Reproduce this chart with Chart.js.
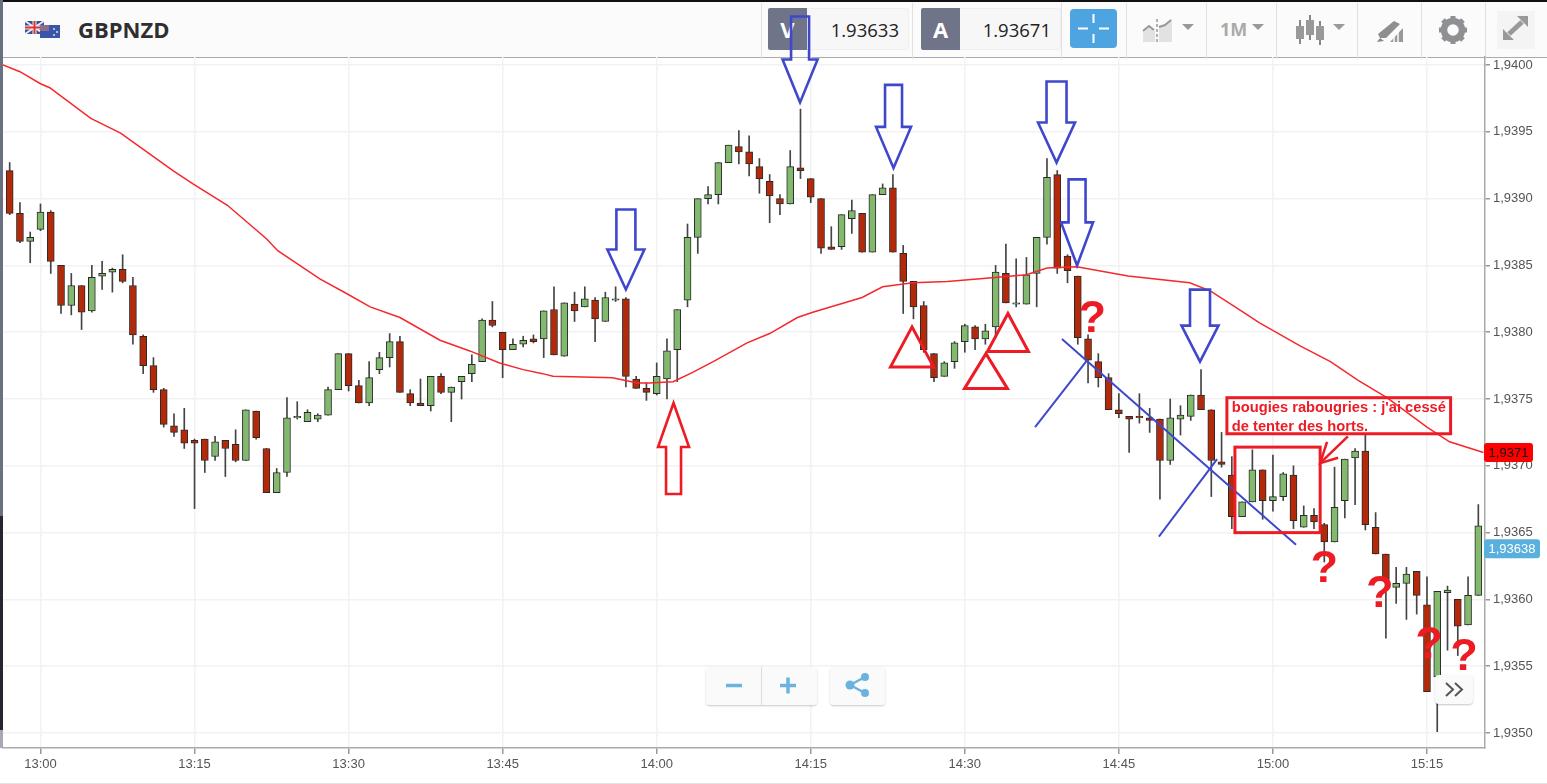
<!DOCTYPE html>
<html>
<head>
<meta charset="utf-8">
<title>GBPNZD</title>
<script src="https://cdn.jsdelivr.net/npm/chart.js@4"></script>
<style>
  html, body { margin: 0; padding: 0; background: #fff; overflow: hidden; }
  #page { position: relative; width: 1547px; height: 784px; overflow: hidden; font-family: "Open Sans", sans-serif; }
  #chart { position: absolute; left: 0; top: 0; z-index: 2; }
  #header { position: absolute; left: 0; top: 0; width: 1547px; height: 58px; background: #fbfbfb; border-bottom: 1.5px solid #aaa; box-sizing: border-box; z-index: 1; }
  #topline { position: absolute; left: 0; top: 0; width: 1547px; height: 1.5px; background: #111; z-index: 3; }
  #bottomline { position: absolute; left: 0; top: 783px; width: 1547px; height: 1px; background: #e4e4e4; z-index: 3; }
  .band { position: absolute; left: 0; width: 2.5px; z-index: 3; }
  .abs { position: absolute; }
  .symbol { left: 78px; top: 12px; font-size: 22px; font-weight: 700; color: #2f2f2f; line-height: 34px; }
  .side { width: 39px; top: 8px; height: 42px; background: #6f7488; color: #fff; font-weight: 700; font-size: 22px; line-height: 42px; text-align: center; border-radius: 2px 0 0 2px; }
  .quote { top: 8px; height: 40px; background: #f7f7f7; border: 1px solid #efefef; border-left: 0; color: #222; font-size: 18.5px; line-height: 41px; text-align: right; box-sizing: content-box; border-radius: 0 3px 3px 0; }
  .sep { top: 3px; width: 1px; height: 56px; background: #e0e0e0; }
  .caret { width: 0; height: 0; border-left: 6px solid transparent; border-right: 6px solid transparent; border-top: 6px solid #999; }
  .btn { z-index: 4; background: rgba(250,250,250,.92); border-radius: 4px; box-shadow: 0 1px 2px rgba(0,0,0,.22); }
</style>
</head>
<body>
<div id="page">
  <div id="header">
    <svg class="abs" style="left:24px;top:20px" width="38" height="20" viewBox="0 0 38 20">
      <rect x="1" y="1" width="19" height="13" fill="#3a4f9a"/>
      <path d="M1 1L20 14M20 1L1 14" stroke="#eee" stroke-width="2"/>
      <path d="M10.5 1V14M1 7.5H20" stroke="#eee" stroke-width="4"/>
      <path d="M10.5 1V14M1 7.5H20" stroke="#d33" stroke-width="2"/>
      <rect x="16" y="5" width="20" height="13" fill="#3b55a8"/>
      <rect x="16" y="5" width="9" height="6" fill="#8a6f90"/>
      <circle cx="30" cy="9" r="1" fill="#dde"/><circle cx="33" cy="12" r="1" fill="#dde"/><circle cx="30" cy="15" r="1" fill="#dde"/>
    </svg>
    <div class="abs symbol">GBPNZD</div>

    <div class="abs sep" style="left:761px"></div>
    <div class="abs side" style="left:768px">V</div>
    <div class="abs quote" style="left:807px;width:92px;padding-right:9px">1.93633</div>
    <div class="abs sep" style="left:912px"></div>
    <div class="abs side" style="left:921px">A</div>
    <div class="abs quote" style="left:960px;width:91px;padding-right:9px">1.93671</div>
    <div class="abs sep" style="left:1061px"></div>
    <svg class="abs" style="left:1070px;top:9px" width="47" height="39" viewBox="0 0 47 39">
      <rect x="0" y="0" width="47" height="39" rx="4" fill="#4ea4e0"/>
      <path d="M23.5 5V14M23.5 25V34M8 19.5H18M29 19.5H39" stroke="#fff" stroke-width="2"/>
    </svg>
    <div class="abs sep" style="left:1126px"></div>
    <svg class="abs" style="left:1142px;top:18px" width="32" height="26" viewBox="0 0 32 26">
      <path d="M1 15L7 9L13 13V24H1Z" fill="#e2e2e2"/><path d="M17 8L24 6L30 1V24H17Z" fill="#e2e2e2"/>
      <path d="M1 13L7 8L12 12" stroke="#999" stroke-width="2" fill="none"/><path d="M17 9L23 7L29 2" stroke="#999" stroke-width="2" fill="none"/>
      <path d="M15 1V25" stroke="#999" stroke-width="1.5" stroke-dasharray="3 2"/>
    </svg>
    <div class="abs caret" style="left:1182px;top:24px"></div>
    <div class="abs sep" style="left:1206px"></div>
    <div class="abs" style="left:1220px;top:17px;font-size:18px;font-weight:700;color:#aaa;line-height:24px">1M</div>
    <div class="abs caret" style="left:1252px;top:24px"></div>
    <div class="abs sep" style="left:1276px"></div>
    <svg class="abs" style="left:1295px;top:14px" width="32" height="32" viewBox="0 0 32 32">
      <path d="M5 6V30M15 1V26M25 7V31" stroke="#888" stroke-width="2"/>
      <rect x="1" y="12" width="8" height="13" fill="#999"/><rect x="11" y="6" width="8" height="15" fill="#999"/><rect x="21" y="12" width="8" height="14" fill="#999"/>
    </svg>
    <div class="abs caret" style="left:1333px;top:24px"></div>
    <div class="abs sep" style="left:1357px"></div>
    <svg class="abs" style="left:1376px;top:19px" width="28" height="24" viewBox="0 0 28 24">
      <path d="M2 15L18 2L24 5L10 19L4 19Z" fill="#8f8f8f"/><path d="M1 23L4 19L8 22Z" fill="#888"/>
      <path d="M14 23L27 9V23Z" fill="#999"/><path d="M18 23V17M22 23V13" stroke="#fbfbfb" stroke-width="1.5"/>
    </svg>
    <div class="abs sep" style="left:1421px"></div>
    <svg class="abs" style="left:1439px;top:16px" width="28" height="28" viewBox="0 0 28 28">
      <circle cx="14" cy="14" r="9" fill="none" stroke="#8e9094" stroke-width="6.5"/>
      <path d="M14 0V5M14 23V28M0 14H5M23 14H28M4 4L8 8M20 20L24 24M24 4L20 8M8 20L4 24" stroke="#8e9094" stroke-width="5"/>
    </svg>
    <div class="abs sep" style="left:1485px"></div>
    <svg class="abs" style="left:1497px;top:11px" width="38" height="38" viewBox="0 0 38 38">
      <rect width="38" height="38" fill="#f4f4f4"/>
      <path d="M20 5H31V16Z M6 18V29H17Z" fill="#999"/>
      <path d="M25 11L12 23" stroke="#999" stroke-width="5"/>
    </svg>
  </div>
  <div id="topline"></div>
  <div id="bottomline"></div>
  <div class="band" style="top:0;height:516px;background:#6a7080"></div>
  <div class="band" style="top:516px;height:214px;background:#26262e"></div>
  <div class="band" style="top:730px;height:18px;background:#a6a9b2"></div>

  <canvas id="chart" width="1547" height="784"></canvas>

  <div class="abs btn" style="left:706px;top:667px;width:111px;height:38px">
    <svg class="abs" style="left:0;top:0" width="111" height="38" viewBox="0 0 111 38">
      <path d="M55.5 0V38" stroke="#ddd"/>
      <path d="M20 18.500H36" stroke="#6bb3de" stroke-width="3.500"/>
      <path d="M74 18.500H90M82 10.500V26.500" stroke="#6bb3de" stroke-width="3.500"/>
    </svg>
  </div>
  <div class="abs btn" style="left:830px;top:667px;width:55px;height:38px">
    <svg class="abs" style="left:0;top:0" width="55" height="38" viewBox="0 0 55 38">
      <path d="M20 18L35 10M20 18L35 26" stroke="#6bb3de" stroke-width="2.500"/>
      <circle cx="20" cy="18" r="4.500" fill="#6bb3de"/><circle cx="35" cy="10" r="4" fill="#6bb3de"/><circle cx="35" cy="26" r="4" fill="#6bb3de"/>
    </svg>
  </div>
  <div class="abs btn" style="left:1435px;top:675px;width:38px;height:29px;background:#fafafa">
    <svg class="abs" style="left:0;top:0" width="38" height="29" viewBox="0 0 38 29">
      <path d="M11 8L18 14.500L11 21M20 8L27 14.500L20 21" stroke="#555" stroke-width="2" fill="none"/>
    </svg>
  </div>
</div>

<script>
// one candle per minute, first one is 12:57 (minute -3 from 13:00)
const firstMinute = -3;
const opens = [1.93921,1.93889,1.93868,1.93877,1.93890,1.93850,1.93820,1.93835,1.93816,1.93842,1.93845,1.93847,
  1.93835,1.93797,1.93775,1.93757,1.93730,1.93727,1.93719,1.93720,1.93707,1.93719,1.93716,1.93704,
  1.93741,1.93713,1.93680,1.93695,1.93736,1.93733,1.93735,1.93738,1.93757,1.93784,1.93760,1.93747,
  1.93772,1.93781,1.93793,1.93754,1.93747,1.93745,1.93767,1.93755,1.93763,1.93769,1.93778,1.93809,
  1.93800,1.93787,1.93791,1.93795,1.93795,1.93817,1.93782,1.93821,1.93819,1.93824,1.93808,1.93824,
  1.93825,1.93765,1.93758,1.93754,1.93765,1.93787,1.93824,1.93871,1.93900,1.93903,1.93927,1.93939,
  1.93935,1.93924,1.93913,1.93900,1.93896,1.93923,1.93915,1.93900,1.93864,1.93864,1.93885,1.93889,
  1.93860,1.93903,1.93908,1.93859,1.93838,1.93820,1.93784,1.93767,1.93778,1.93793,1.93804,1.93795,
  1.93804,1.93844,1.93821,1.93821,1.93844,1.93871,1.93918,1.93857,1.93842,1.93795,1.93778,1.93766,
  1.93742,1.93737,1.93737,1.93736,1.93735,1.93704,1.93735,1.93737,1.93753,1.93742,1.93703,1.93693,
  1.93662,1.93673,1.93697,1.93674,1.93677,1.93693,1.93654,1.93663,1.93656,1.93643,1.93674,1.93706,
  1.93711,1.93654,1.93634,1.93609,1.93612,1.93621,1.93596,1.93542,1.93605,1.93600,1.93581,1.93603];
const highs = [1.93927,1.93897,1.93875,1.93896,1.93891,1.93850,1.93844,1.93835,1.93850,1.93853,1.93848,1.93858,
  1.93841,1.93798,1.93781,1.93758,1.93739,1.93743,1.93720,1.93720,1.93722,1.93719,1.93727,1.93742,
  1.93741,1.93713,1.93698,1.93751,1.93748,1.93742,1.93739,1.93759,1.93784,1.93784,1.93764,1.93778,
  1.93785,1.93799,1.93797,1.93757,1.93765,1.93767,1.93769,1.93759,1.93767,1.93783,1.93810,1.93823,
  1.93800,1.93795,1.93797,1.93798,1.93816,1.93834,1.93822,1.93830,1.93834,1.93826,1.93830,1.93834,
  1.93826,1.93767,1.93762,1.93777,1.93795,1.93817,1.93881,1.93900,1.93909,1.93927,1.93940,1.93951,
  1.93947,1.93930,1.93918,1.93903,1.93936,1.93967,1.93915,1.93900,1.93879,1.93888,1.93899,1.93889,
  1.93903,1.93911,1.93918,1.93865,1.93838,1.93823,1.93784,1.93778,1.93793,1.93806,1.93805,1.93806,
  1.93850,1.93866,1.93855,1.93856,1.93871,1.93930,1.93921,1.93858,1.93842,1.93798,1.93784,1.93769,
  1.93754,1.93737,1.93754,1.93743,1.93735,1.93750,1.93745,1.93753,1.93772,1.93742,1.93725,1.93707,
  1.93673,1.93712,1.93697,1.93708,1.93695,1.93700,1.93670,1.93668,1.93657,1.93699,1.93705,1.93713,
  1.93723,1.93665,1.93634,1.93624,1.93624,1.93621,1.93617,1.93606,1.93610,1.93600,1.93617,1.93671];
const lows = [1.93888,1.93867,1.93852,1.93876,1.93844,1.93814,1.93813,1.93802,1.93815,1.93832,1.93830,1.93837,
  1.93791,1.93769,1.93755,1.93729,1.93722,1.93713,1.93668,1.93695,1.93704,1.93692,1.93703,1.93704,
  1.93720,1.93680,1.93680,1.93692,1.93735,1.93733,1.93733,1.93738,1.93757,1.93756,1.93747,1.93745,
  1.93769,1.93774,1.93755,1.93745,1.93745,1.93741,1.93754,1.93733,1.93750,1.93763,1.93778,1.93804,
  1.93766,1.93787,1.93789,1.93792,1.93781,1.93783,1.93782,1.93808,1.93819,1.93793,1.93808,1.93823,
  1.93759,1.93758,1.93749,1.93753,1.93750,1.93763,1.93819,1.93859,1.93896,1.93896,1.93927,1.93926,
  1.93917,1.93904,1.93882,1.93888,1.93896,1.93915,1.93897,1.93859,1.93862,1.93862,1.93874,1.93860,
  1.93860,1.93903,1.93860,1.93814,1.93810,1.93785,1.93763,1.93767,1.93773,1.93785,1.93787,1.93791,
  1.93796,1.93822,1.93819,1.93821,1.93819,1.93866,1.93844,1.93837,1.93791,1.93762,1.93759,1.93742,
  1.93736,1.93710,1.93732,1.93725,1.93675,1.93701,1.93723,1.93734,1.93742,1.93677,1.93699,1.93653,
  1.93662,1.93673,1.93660,1.93666,1.93674,1.93653,1.93654,1.93653,1.93628,1.93643,1.93661,1.93671,
  1.93652,1.93634,1.93571,1.93597,1.93585,1.93589,1.93531,1.93501,1.93562,1.93558,1.93581,1.93603];
const closes = [1.93889,1.93868,1.93871,1.93890,1.93853,1.93820,1.93835,1.93815,1.93841,1.93844,1.93847,1.93838,
  1.93798,1.93775,1.93757,1.93731,1.93725,1.93717,1.93717,1.93704,1.93718,1.93713,1.93704,1.93742,
  1.93721,1.93680,1.93695,1.93736,1.93737,1.93740,1.93738,1.93757,1.93784,1.93760,1.93747,1.93766,
  1.93781,1.93793,1.93755,1.93747,1.93745,1.93767,1.93755,1.93759,1.93767,1.93776,1.93809,1.93805,
  1.93787,1.93791,1.93794,1.93793,1.93816,1.93783,1.93822,1.93816,1.93825,1.93810,1.93826,1.93825,
  1.93767,1.93758,1.93755,1.93767,1.93786,1.93817,1.93871,1.93900,1.93903,1.93927,1.93940,1.93935,
  1.93926,1.93915,1.93902,1.93896,1.93924,1.93921,1.93901,1.93863,1.93862,1.93888,1.93891,1.93860,
  1.93903,1.93908,1.93860,1.93838,1.93819,1.93787,1.93766,1.93777,1.93792,1.93805,1.93795,1.93801,
  1.93845,1.93822,1.93822,1.93843,1.93871,1.93916,1.93848,1.93846,1.93796,1.93779,1.93766,1.93742,
  1.93739,1.93735,1.93736,1.93734,1.93704,1.93736,1.93738,1.93753,1.93742,1.93704,1.93701,1.93662,
  1.93673,1.93697,1.93674,1.93677,1.93694,1.93659,1.93663,1.93658,1.93643,1.93669,1.93705,1.93711,
  1.93656,1.93634,1.93615,1.93612,1.93619,1.93603,1.93531,1.93606,1.93607,1.93580,1.93603,1.93655];

// red moving average at these minutes
const emaMinutes = [-3.65,-2,0,0.9,4.9,7.8,12.9,14.85,18.2,22,23.1,27.2,29.8,32.1,35,38.9,41.8,44.7,47,48.9,49.9,
  55.7,58.1,59.3,61.6,63.5,65.5,68.8,71,73.7,75.2,80,82,84.95,88.3,91.5,96,98,100.9,105.9,111.9,113.9,117.1,
  118.7,122.6,125.6,128.3,131.1,135,137.2,140.5];
const emaValues = [1.94000,1.93995,1.93986,1.93983,1.93960,1.93949,1.93921,1.93911,1.93895,1.93870,1.93861,1.93840,
  1.93829,1.93819,1.93811,1.93794,1.93786,1.93777,1.93772,1.93769,1.93767,1.93766,1.93762,1.93762,1.93763,1.93770,
  1.93778,1.93792,1.93799,1.93811,1.93815,1.93826,1.93834,1.93837,1.93838,1.93840,1.93843,1.93848,1.93849,1.93842,
  1.93837,1.93831,1.93815,1.93807,1.93790,1.93778,1.93764,1.93751,1.93729,1.93718,1.93710];

const xTickMinutes = [0,15,30,45,60,75,90,105,120,135];
const xTickLabels = ['13:00','13:15','13:30','13:45','14:00','14:15','14:30','14:45','15:00','15:15'];
const yTickValues = [1.9350,1.9355,1.9360,1.9365,1.9370,1.9375,1.9380,1.9385,1.9390,1.9395,1.9400];

const header = 'GBPNZD';
const bidPrice = 1.9371;
const lastPrice = 1.93638;

// hand drawn notes from the screenshot, anchored on (minute, price)
const downArrowMinutes = [57,73.96,83.06,98.93,100.93,112.9];
const downArrowPrices = [1.93832,1.93972,1.93923,1.93927,1.93850,1.93778];
const upArrowMinutes = [61.64];
const upArrowPrices = [1.93747];
const triangleMinutes = [84.86,94.2,92.06];
const trianglePrices = [1.93804,1.93814,1.93784];
const questionMinutes = [102.4,125,130.4,135.2,138.6];
const questionPrices = [1.93800,1.93613,1.93594,1.93556,1.93547];
const noteLines = ["bougies rabougries : j'ai cessé", 'de tenter des horts.'];
const noteMinutes = [116,116];
const notePrices = [1.93740,1.93726];
const boxMinutes = [[115.52,137.3],[116.3,124.6]];
const boxPrices = [[1.93751,1.93724],[1.93714,1.93650]];
const crossLines = [
  [[99.46,1.93795],[122.25,1.93641]],
  [[96.84,1.93729],[101.9,1.93779]],
  [[108.9,1.93647],[114.56,1.93705]]
];
const pointerLines = [
  [[127.3,1.93722],[124.6,1.93702]],
  [[125.27,1.93718],[124.6,1.93702],[126.35,1.93706]]
];

const RED = '#ed1c24';
const BLUE = '#3f48cc';
const downArrowSizes = [[9.5,18.5,40,80],[9,17.5,43,86],[8.5,17.5,41,83],[10,18.5,40,81],[8.5,16,43,86],[10,18.5,36,72]];
const upArrowSizes = [[7.5,15.5,44,91]];
const triangleSizes = [[21.5,40],[20.5,38],[21.5,35]];

const minutes = opens.map((o, i) => firstMinute + i);
const bodyColors = opens.map((o, i) => closes[i] >= o ? '#82b96e' : '#b32a0a');

function lineSet(points, color, width) {
  return {
    type: 'line',
    data: points.map(p => ({x: p[0], y: p[1]})),
    borderColor: color,
    borderWidth: width,
    pointRadius: 0,
    tension: 0,
    order: 1
  };
}

const notesPlugin = {
  id: 'notes',
  afterDatasetsDraw(chart) {
    const ctx = chart.ctx;
    const xs = chart.scales.x;
    const ys = chart.scales.y;
    const px = m => xs.getPixelForValue(m);
    const py = v => ys.getPixelForValue(v);
    ctx.save();
    ctx.lineJoin = 'miter';

    // arrows
    ctx.strokeStyle = BLUE;
    ctx.lineWidth = 2.6;
    downArrowMinutes.forEach((m, i) => {
      const [sw, hw, hh, len] = downArrowSizes[i];
      const x = px(m), y = py(downArrowPrices[i]);
      ctx.beginPath();
      ctx.moveTo(x, y);
      ctx.lineTo(x - hw, y - hh);
      ctx.lineTo(x - sw, y - hh);
      ctx.lineTo(x - sw, y - len);
      ctx.lineTo(x + sw, y - len);
      ctx.lineTo(x + sw, y - hh);
      ctx.lineTo(x + hw, y - hh);
      ctx.closePath();
      ctx.stroke();
    });
    ctx.strokeStyle = RED;
    upArrowMinutes.forEach((m, i) => {
      const [sw, hw, hh, len] = upArrowSizes[i];
      const x = px(m), y = py(upArrowPrices[i]);
      ctx.beginPath();
      ctx.moveTo(x, y);
      ctx.lineTo(x - hw, y + hh);
      ctx.lineTo(x - sw, y + hh);
      ctx.lineTo(x - sw, y + len);
      ctx.lineTo(x + sw, y + len);
      ctx.lineTo(x + sw, y + hh);
      ctx.lineTo(x + hw, y + hh);
      ctx.closePath();
      ctx.stroke();
    });

    // triangles
    ctx.lineWidth = 3;
    triangleMinutes.forEach((m, i) => {
      const [hw, h] = triangleSizes[i];
      const x = px(m), y = py(trianglePrices[i]);
      ctx.beginPath();
      ctx.moveTo(x, y);
      ctx.lineTo(x - hw, y + h);
      ctx.lineTo(x + hw, y + h);
      ctx.closePath();
      ctx.stroke();
    });

    // boxes
    boxMinutes.forEach((m, i) => {
      const x0 = px(m[0]), x1 = px(m[1]);
      const y0 = py(boxPrices[i][0]), y1 = py(boxPrices[i][1]);
      ctx.strokeRect(x0, y0, x1 - x0, y1 - y0);
    });

    // note text
    ctx.fillStyle = RED;
    ctx.textBaseline = 'alphabetic';
    ctx.textAlign = 'left';
    ctx.font = 'bold 14.7px "Liberation Sans"';
    noteLines.forEach((t, i) => ctx.fillText(t, px(noteMinutes[i]), py(notePrices[i])));

    // question marks
    ctx.font = 'bold 45px "Liberation Sans"';
    ctx.textAlign = 'center';
    questionMinutes.forEach((m, i) => ctx.fillText('?', px(m), py(questionPrices[i])));

    // price tags on the axis
    const tag = (v, text, bg, fg, w) => {
      const y = py(v);
      ctx.fillStyle = bg;
      ctx.beginPath();
      ctx.roundRect(xs.right - 1, y - 9.5, w, 19, 3);
      ctx.fill();
      ctx.fillStyle = fg;
      ctx.font = '13px "Liberation Sans"';
      ctx.textAlign = 'center';
      ctx.textBaseline = 'middle';
      ctx.fillText(text, xs.right - 1 + w / 2, y + 1);
    };
    tag(bidPrice, String(bidPrice).replace('.', ','), '#ff0000', '#111', 49);
    tag(lastPrice, String(lastPrice).replace('.', ','), '#5ab0dd', '#fff', 56);
    ctx.restore();
  }
};

new Chart(document.getElementById('chart').getContext('2d'), {
  type: 'bar',
  plugins: [notesPlugin],
  data: {
    datasets: [
      {
        label: header + ' wicks',
        data: minutes.map((m, i) => ({x: m, y: [lows[i], highs[i]]})),
        backgroundColor: '#444',
        barThickness: 1,
        grouped: false,
        order: 5
      },
      {
        label: header,
        data: minutes.map((m, i) => ({x: m, y: [opens[i], closes[i]]})),
        backgroundColor: bodyColors,
        borderColor: '#2a2a2a',
        borderWidth: 1,
        borderSkipped: false,
        barThickness: 7,
        grouped: false,
        order: 4
      },
      {
        type: 'line',
        label: 'MA',
        data: emaMinutes.map((m, i) => ({x: m, y: emaValues[i]})),
        borderColor: '#f5282c',
        borderWidth: 1.5,
        pointRadius: 0,
        tension: 0,
        order: 3
      },
      ...crossLines.map(p => lineSet(p, BLUE, 2)),
      ...pointerLines.map(p => lineSet(p, RED, 2.5))
    ]
  },
  options: {
    responsive: false,
    animation: false,
    layout: {padding: {left: 3, top: 57, right: 0, bottom: 0}},
    plugins: {legend: {display: false}, tooltip: {enabled: false}},
    scales: {
      x: {
        type: 'linear',
        position: 'bottom',
        offset: false,
        min: -3.65,
        max: 140.65,
        afterBuildTicks: s => { s.ticks = xTickMinutes.map(v => ({value: v})); },
        afterFit: s => { s.height = 36; },
        grid: {color: '#f2f2f2', lineWidth: 1.5, tickColor: '#999', tickLength: 6, offset: false},
        border: {color: '#aaa', width: 1.5},
        ticks: {
          color: '#555',
          font: {family: '"Liberation Sans"', size: 13},
          maxRotation: 0,
          autoSkip: false,
          padding: 3,
          callback: v => xTickLabels[xTickMinutes.indexOf(v)]
        }
      },
      y: {
        type: 'linear',
        position: 'right',
        min: 1.934888,
        max: 1.94006,
        afterBuildTicks: s => { s.ticks = yTickValues.map(v => ({value: v})); },
        afterFit: s => { s.width = 62; },
        grid: {color: '#f2f2f2', lineWidth: 1.5, tickColor: '#999', tickLength: 5},
        border: {color: '#aaa', width: 1.5},
        ticks: {
          color: '#555',
          font: {family: '"Liberation Sans"', size: 13},
          padding: 3,
          callback: v => v.toFixed(4).replace('.', ',')
        }
      }
    }
  }
});
</script>
</body>
</html>
